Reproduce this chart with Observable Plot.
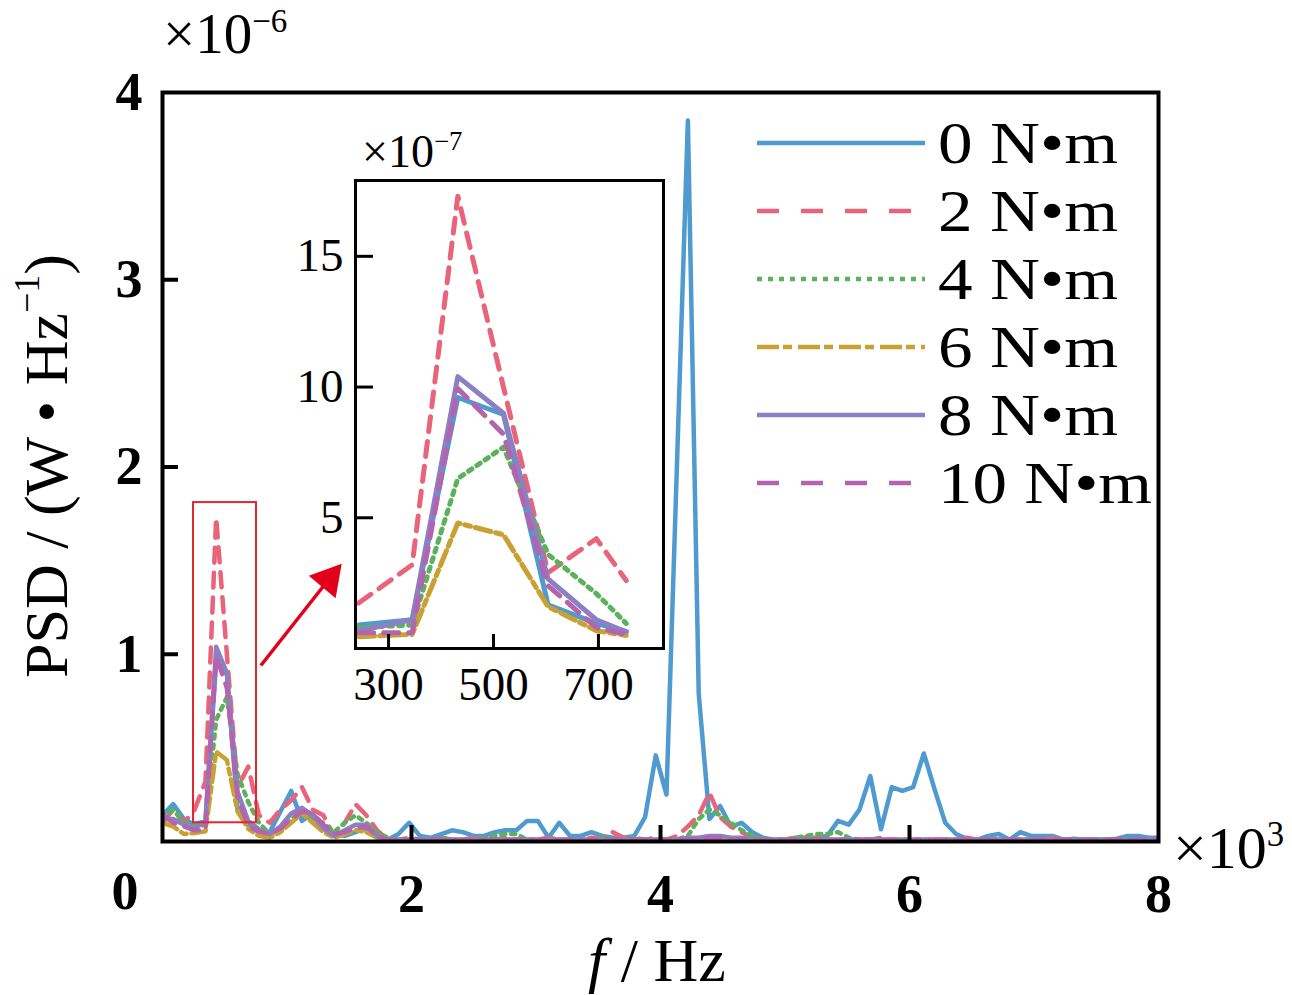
<!DOCTYPE html>
<html><head><meta charset="utf-8">
<script src="https://cdn.jsdelivr.net/npm/d3@7"></script>
<script src="https://cdn.jsdelivr.net/npm/@observablehq/plot@0.6"></script>
<style>
body{margin:0;background:#fff;}
#wrap{position:relative;width:1292px;height:995px;overflow:hidden;background:#fff;}
#wrap > *{position:absolute;}
</style></head><body><div id="wrap"></div>
<script>
// ---------------- data ----------------
const seriesNames = ["0 N•m","2 N•m","4 N•m","6 N•m","8 N•m","10 N•m"];
const seriesColors = ["#4f9bcf","#e8647a","#5cb25c","#c9a032","#8a80c2","#b463ae"];
const lineDash = [null,"15,10","4,6","16,5,6,5",null,"15,10"];
const legendDash = [null,"22,22","5,6","22,4,9,6",null,"22,22"];

// frequency grid (Hz)
const freqHz = [0,86,172,258,345,431,517,603,689,775,861,947,1034,1120,1206,1292,1378,1464,1550,1637,
1723,1809,1895,1981,2067,2153,2239,2326,2412,2498,2584,2670,2756,2842,2928,3015,3101,3187,3273,3359,
3445,3531,3618,3704,3790,3876,3962,4048,4134,4220,4307,4393,4479,4565,4651,4737,4823,4909,4996,5082,
5168,5254,5340,5426,5512,5598,5685,5771,5857,5943,6029,6115,6201,6287,6374,6460,6546,6632,6718,6804,
6890,6977,7063,7149,7235,7321,7407,7493,7579,7666,7752,7838,7924,8010];

// PSD values, x1e-6 W/Hz
const psd0 = [0.14,0.20,0.12,0.09,0.11,0.96,0.895,0.167,0.09,0.05,
0.05,0.16,0.27,0.11,0.15,0.07,0.04,0.03,0.05,0.07,
0.04,0.01,0.04,0.10,0.03,0.02,0.04,0.06,0.05,0.03,
0.03,0.05,0.06,0.06,0.11,0.11,0.02,0.10,0.03,0.03,
0.05,0.03,0.02,0.02,0.03,0.13,0.46,0.25,2.05,3.85,
0.79,0.12,0.19,0.08,0.10,0.05,0.02,0.01,0.01,0.01,
0.01,0.02,0.03,0.11,0.09,0.17,0.35,0.065,0.29,0.27,
0.29,0.47,0.28,0.10,0.04,0.015,0.01,0.03,0.04,0.01,
0.05,0.03,0.03,0.03,0.01,0.015,0.01,0.01,0.01,0.015,
0.03,0.03,0.02,0.02];
const psd2 = [0.10,0.17,0.10,0.17,0.32,1.73,1.00,0.29,0.40,0.14,
0.10,0.17,0.22,0.29,0.17,0.14,0.03,0.10,0.20,0.14,
0.06,0.01,0.01,0.02,0.01,0.01,0.02,0.01,0.01,0.02,
0.01,0.01,0.02,0.01,0.01,0.01,0.02,0.01,0.01,0.01,
0.02,0.02,0.05,0.02,0.01,0.01,0.02,0.01,0.03,0.08,
0.14,0.26,0.13,0.08,0.05,0.02,0.01,0.01,0.01,0.02,
0.02,0.02,0.01,0.01,0.01,0.01,0.01,0.02,0.01,0.01,
0.01,0.01,0.01,0.01,0.01,0.02,0.01,0.01,0.01,0.01,
0.01,0.01,0.01,0.02,0.01,0.01,0.01,0.01,0.01,0.01,
0.01,0.01,0.01,0.01];
const psd4 = [0.12,0.17,0.10,0.08,0.09,0.65,0.77,0.36,0.21,0.10,
0.04,0.06,0.12,0.16,0.12,0.10,0.05,0.10,0.14,0.10,
0.05,0.02,0.01,0.01,0.01,0.01,0.02,0.01,0.01,0.01,
0.02,0.03,0.04,0.04,0.01,0.01,0.01,0.01,0.01,0.01,
0.01,0.02,0.01,0.01,0.02,0.01,0.01,0.01,0.01,0.03,
0.12,0.17,0.14,0.10,0.06,0.03,0.01,0.01,0.01,0.02,
0.03,0.04,0.04,0.05,0.02,0.01,0.01,0.01,0.01,0.01,
0.01,0.01,0.01,0.01,0.01,0.01,0.01,0.01,0.01,0.01,
0.01,0.01,0.01,0.01,0.01,0.01,0.01,0.01,0.01,0.01,
0.01,0.01,0.01,0.01];
const psd6 = [0.10,0.08,0.04,0.045,0.054,0.48,0.435,0.16,0.068,0.03,
0.02,0.05,0.10,0.15,0.10,0.05,0.02,0.04,0.06,0.05,
0.02,0.01,0.005,0.005,0.005,0.005,0.005,0.005,0.005,0.005,
0.005,0.005,0.005,0.005,0.005,0.005,0.005,0.005,0.005,0.005,
0.005,0.005,0.005,0.005,0.005,0.005,0.005,0.005,0.005,0.01,
0.01,0.01,0.005,0.005,0.005,0.005,0.005,0.005,0.005,0.005,
0.005,0.005,0.005,0.005,0.005,0.005,0.005,0.005,0.005,0.005,
0.005,0.005,0.005,0.005,0.005,0.005,0.005,0.005,0.005,0.005,
0.005,0.005,0.005,0.005,0.005,0.005,0.005,0.005,0.005,0.005,
0.005,0.005,0.005,0.005];
const psd8 = [0.12,0.12,0.09,0.068,0.11,1.04,0.90,0.266,0.11,0.064,
0.04,0.08,0.15,0.18,0.14,0.07,0.03,0.06,0.09,0.09,
0.03,0.01,0.01,0.01,0.01,0.01,0.01,0.01,0.01,0.01,
0.01,0.01,0.01,0.01,0.01,0.01,0.01,0.01,0.01,0.01,
0.01,0.01,0.01,0.01,0.01,0.01,0.01,0.01,0.01,0.02,
0.02,0.03,0.03,0.02,0.02,0.01,0.01,0.01,0.01,0.01,
0.01,0.01,0.01,0.01,0.01,0.01,0.01,0.01,0.01,0.01,
0.01,0.01,0.01,0.01,0.01,0.01,0.01,0.01,0.01,0.01,
0.01,0.01,0.01,0.01,0.01,0.01,0.01,0.01,0.01,0.01,
0.01,0.01,0.01,0.01];
const psd10 = [0.14,0.10,0.08,0.06,0.06,0.99,0.82,0.24,0.08,0.054,
0.04,0.07,0.12,0.16,0.15,0.09,0.04,0.05,0.07,0.08,
0.03,0.01,0.01,0.01,0.01,0.01,0.01,0.01,0.01,0.01,
0.01,0.01,0.01,0.01,0.01,0.01,0.01,0.01,0.01,0.01,
0.01,0.01,0.01,0.01,0.01,0.01,0.01,0.01,0.01,0.01,
0.01,0.02,0.02,0.01,0.01,0.01,0.01,0.01,0.01,0.01,
0.01,0.01,0.01,0.01,0.01,0.01,0.01,0.01,0.01,0.01,
0.01,0.01,0.01,0.01,0.01,0.01,0.01,0.01,0.01,0.01,
0.01,0.01,0.01,0.01,0.01,0.01,0.01,0.01,0.01,0.01,
0.01,0.01,0.01,0.01];

// inset (zoom 250-760 Hz), x1e-7 W/Hz
const insetFreq = [243,345,432,519,604,696,753];
const inset0 = [0.9,1.1,9.6,8.95,1.67,0.96,0.64];
const inset2 = [1.74,3.2,17.3,10.0,2.9,4.2,2.6];
const inset4 = [0.8,0.9,6.5,7.7,3.6,2.1,0.96];
const inset6 = [0.45,0.54,4.8,4.35,1.6,0.68,0.5];
const inset8 = [0.68,1.1,10.4,9.0,2.66,1.1,0.64];
const inset10 = [0.6,0.6,9.94,8.2,2.4,0.8,0.54];

// ticks
const mainXTicks = [2000,4000,6000];
const mainXLabels = [2000,4000,6000,8000];
const mainYTicks = [1,2,3];
const mainYLabels = [1,2,3,4];
const insetXTicks = [300,500,700];
const insetYTicks = [5,10,15];

// annotation (data units)
const zoomBox = {x1: 249, x2: 755, y1: 0.10, y2: 1.81};
const zoomArrow = {x1: 790, y1: 0.94, x2: 1300, y2: 1.37};
const arrowHead = {x: 1335, y: 1.40, angle: 40};

// ---------------- build ----------------
const mainSeries = [psd0,psd2,psd4,psd6,psd8,psd10];
const insetSeries = [inset0,inset2,inset4,inset6,inset8,inset10];
const FONT = '"Liberation Serif","Times New Roman",serif';
const wrap = document.getElementById("wrap");

const mL=162, mR=134, mT=92, mB=154, W=1292, H=995;
const frameW = W-mL-mR, frameH = H-mT-mB;

const mainLines = mainSeries.map((vals,i) => Plot.line(
  freqHz.map((f,k)=>({f, v: vals[k]})),
  {x:"f", y:"v", stroke: seriesColors[i], strokeWidth: 4.5, strokeDasharray: lineDash[i] || undefined, clip: true}
));

const main = Plot.plot({
  width: W, height: H,
  marginLeft: mL, marginRight: mR, marginTop: mT, marginBottom: mB,
  x: {domain: [0, 8000]},
  y: {domain: [0, 4]},
  style: {fontFamily: FONT, fontSize: "54px", background: "transparent", color: "#000"},
  marks: [
    ...mainLines,
    Plot.rect([zoomBox], {x1:"x1", x2:"x2", y1:"y1", y2:"y2", stroke:"#e3262f", strokeWidth:2, fill:"none"}),
    Plot.link([zoomArrow], {x1:"x1", y1:"y1", x2:"x2", y2:"y2", stroke:"#e3001b", strokeWidth:3.5}),
    Plot.dot([arrowHead], {x:"x", y:"y", symbol:"triangle", r: 13, rotate: "angle", fill:"#e3001b", stroke:"none"}),
    Plot.tickY(mainYTicks, {y: d=>d, insetRight: frameW-16, strokeWidth: 4, stroke:"#000"}),
    Plot.tickX(mainXTicks, {x: d=>d, insetTop: frameH-16, strokeWidth: 4, stroke:"#000"}),
    Plot.axisY(mainYLabels, {tickSize: 0, tickPadding: 20, fontWeight: "bold", tickFormat: d => String(d), label: null}),
    Plot.axisX(mainXLabels, {tickSize: 0, tickPadding: 32, fontWeight: "bold", tickFormat: d => String(d/1000), label: null}),
    Plot.frame({stroke:"#000", strokeWidth: 4})
  ]
});
main.style.left = "0px"; main.style.top = "0px";
wrap.appendChild(main);

// inset
const iL=70, iR=5, iT=5, iB=90, iW=308, iH=468;
const insetLines = insetSeries.map((vals,i) => Plot.line(
  insetFreq.map((f,k)=>({f, v: vals[k]})),
  {x:"f", y:"v", stroke: seriesColors[i], strokeWidth: 5, strokeDasharray: lineDash[i] || undefined, clip: true}
));
const inset = Plot.plot({
  width: iL+iW+iR, height: iT+iH+iB,
  marginLeft: iL, marginRight: iR, marginTop: iT, marginBottom: iB,
  x: {domain: [237, 824]},
  y: {domain: [0, 17.9]},
  style: {fontFamily: FONT, fontSize: "47px", background: "transparent", color:"#000"},
  marks: [
    Plot.frame({fill:"#fff"}),
    ...insetLines,
    Plot.tickY(insetYTicks, {y: d=>d, insetRight: iW-18, strokeWidth: 3, stroke:"#000"}),
    Plot.tickX(insetXTicks, {x: d=>d, insetTop: iH-14, strokeWidth: 3, stroke:"#000"}),
    Plot.axisY(insetYTicks, {tickSize: 0, tickPadding: 12, label: null}),
    Plot.axisX(insetXTicks, {tickSize: 0, tickPadding: 18, label: null}),
    Plot.frame({stroke:"#000", strokeWidth: 3})
  ]
});
inset.style.left = (355-iL)+"px"; inset.style.top = (180-iT)+"px";
wrap.appendChild(inset);

// overlay texts + legend
const svg = d3.select(wrap).append("svg")
  .attr("width", W).attr("height", H)
  .style("left","0px").style("top","0px").style("pointer-events","none")
  .style("font-family", FONT);

function sciLabel(x, y, size, exp){
  const t = svg.append("text").attr("x", x).attr("y", y).attr("font-size", size);
  t.append("tspan").text("×10");
  t.append("tspan").attr("font-size", size*0.58).attr("dy", -size*0.36).text(exp);
  return t;
}
sciLabel(163, 53, 57, "−6");
sciLabel(1173, 868, 60, "3");
sciLabel(362, 167, 46, "−7");

// corner zero
svg.append("text").attr("x",125).attr("y",891).attr("font-size",54).attr("font-weight","bold")
  .attr("text-anchor","middle").attr("dominant-baseline","central").text("0");

// y axis label
const yl = svg.append("text").attr("transform","translate(46,466) rotate(-90)")
  .attr("font-size",62).attr("text-anchor","middle").attr("dominant-baseline","central");
yl.append("tspan").text("PSD / (W • Hz");
yl.append("tspan").attr("font-size",36).attr("dy",-19).text("−1");
yl.append("tspan").attr("dy",19).text(")");

// x axis label
const xl = svg.append("text").attr("x",657).attr("y",981).attr("font-size",62).attr("text-anchor","middle");
xl.append("tspan").attr("font-style","italic").text("f");
xl.append("tspan").text(" / Hz");

// legend
const legY0 = 143, legStep = 68;
const legWidths = [180,180,180,180,180,214];
seriesNames.forEach((name,i) => {
  const y = legY0 + i*legStep;
  svg.append("line").attr("x1",757).attr("x2",925).attr("y1",y).attr("y2",y)
    .attr("stroke",seriesColors[i]).attr("stroke-width",4.5)
    .attr("stroke-dasharray", legendDash[i] || null);
  svg.append("text").attr("x",938).attr("y",y+20).attr("font-size",60)
    .attr("textLength", legWidths[i]).attr("lengthAdjust","spacingAndGlyphs").text(name);
});
</script></body></html>
